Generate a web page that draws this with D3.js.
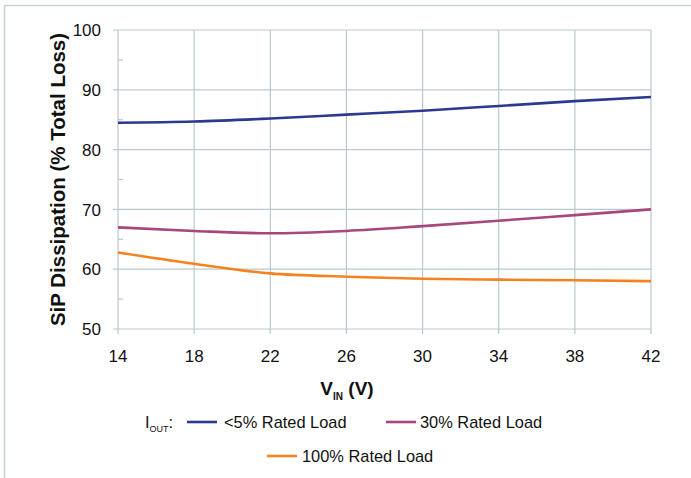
<!DOCTYPE html>
<html>
<head>
<meta charset="utf-8">
<script src="https://cdn.jsdelivr.net/npm/d3@7"></script>
<style>
  body { margin: 0; background: #fff; }
  svg { display: block; font-family: "Liberation Sans", Arial, sans-serif; }
</style>
</head>
<body>
<div id="chart"></div>
<script>
// Data
const vin = [14, 18, 22, 26, 30, 34, 38, 42];
const load5 = [84.5, 84.7, 85.2, 85.85, 86.5, 87.3, 88.1, 88.8];
const load30 = [67.0, 66.4, 66.0, 66.4, 67.2, 68.1, 69.05, 70.0];
const load100 = [62.8, 60.9, 59.3, 58.75, 58.4, 58.25, 58.15, 58.0];
const yTicks = [50, 60, 70, 80, 90, 100];
const yMinor = [55, 65, 75, 85, 95];

const series = [
  { name: '<5% Rated Load', values: load5, color: '#2b3990' },
  { name: '30% Rated Load', values: load30, color: '#a8477b' },
  { name: '100% Rated Load', values: load100, color: '#f58220' },
];

const width = 691, height = 478;
const margin = { top: 30, right: 40, bottom: 149, left: 118 };
const gridColor = '#b9c9cf';

const svg = d3.select('#chart').append('svg')
  .attr('width', width)
  .attr('height', height);

// Outer frame (top and left only)
svg.append('path')
  .attr('d', `M4.5,${height} V5.5 H${width}`)
  .attr('fill', 'none')
  .attr('stroke', '#c5d3d8')
  .attr('stroke-width', 1.5);

const x = d3.scaleLinear().domain([14, 42]).range([margin.left, width - margin.right]);
const y = d3.scaleLinear().domain([50, 100]).range([height - margin.bottom, margin.top]);

// Grid
const g = svg.append('g');
g.selectAll('.hgrid').data(yTicks).join('line')
  .attr('x1', margin.left - 5).attr('x2', x(42))
  .attr('y1', d => y(d)).attr('y2', d => y(d))
  .attr('stroke', gridColor).attr('stroke-width', 1.2);
g.selectAll('.vgrid').data(vin).join('line')
  .attr('x1', d => x(d)).attr('x2', d => x(d))
  .attr('y1', y(100)).attr('y2', y(50) + 5)
  .attr('stroke', gridColor).attr('stroke-width', 1.2);
// minor ticks on the y axis
g.selectAll('.minor').data(yMinor).join('line')
  .attr('x1', margin.left).attr('x2', margin.left + 5)
  .attr('y1', d => y(d)).attr('y2', d => y(d))
  .attr('stroke', gridColor).attr('stroke-width', 1.2);

// Tick labels
svg.append('g').selectAll('text').data(yTicks).join('text')
  .attr('x', margin.left - 17)
  .attr('y', d => y(d))
  .attr('dy', '0.36em')
  .attr('text-anchor', 'end')
  .attr('font-size', 17)
  .attr('fill', '#111')
  .text(d => d);

svg.append('g').selectAll('text').data(vin).join('text')
  .attr('x', d => x(d))
  .attr('y', y(50) + 33)
  .attr('text-anchor', 'middle')
  .attr('font-size', 17)
  .attr('fill', '#111')
  .text(d => d);

// Lines
const line = d3.line()
  .x((d, i) => x(vin[i]))
  .y(d => y(d))
  .curve(d3.curveMonotoneX);

svg.append('g').selectAll('path').data(series).join('path')
  .attr('d', d => line(d.values))
  .attr('fill', 'none')
  .attr('stroke', d => d.color)
  .attr('stroke-width', 2.6);

// Axis titles
svg.append('text')
  .attr('transform', `translate(65,${(y(50) + y(100)) / 2}) rotate(-90)`)
  .attr('text-anchor', 'middle')
  .attr('font-size', 20.5)
  .attr('font-weight', 'bold')
  .attr('fill', '#111')
  .text('SiP Dissipation (% Total Loss)');

const xt = svg.append('text')
  .attr('x', 347)
  .attr('y', 395)
  .attr('text-anchor', 'middle')
  .attr('font-size', 19)
  .attr('font-weight', 'bold')
  .attr('fill', '#111');
xt.append('tspan').text('V');
xt.append('tspan').attr('font-size', 10).attr('dy', 5).text('IN');
xt.append('tspan').attr('dy', -5).text(' (V)');

// Legend
const lg = svg.append('g').attr('font-size', 16.4).attr('fill', '#111');
const io = lg.append('text').attr('x', 145).attr('y', 428);
io.append('tspan').text('I');
io.append('tspan').attr('font-size', 9).attr('dy', 4).text('OUT');
io.append('tspan').attr('dy', -4).text(':');

const legendPos = [
  { lx: 187, ly: 422, tx: 224 },
  { lx: 386, ly: 422, tx: 420 },
  { lx: 267, ly: 456, tx: 302 },
];
series.forEach((s, i) => {
  const p = legendPos[i];
  lg.append('line')
    .attr('x1', p.lx).attr('x2', p.lx + 30)
    .attr('y1', p.ly).attr('y2', p.ly)
    .attr('stroke', s.color).attr('stroke-width', 2.6);
  lg.append('text')
    .attr('x', p.tx).attr('y', p.ly + 6)
    .text(s.name);
});
</script>
</body>
</html>
